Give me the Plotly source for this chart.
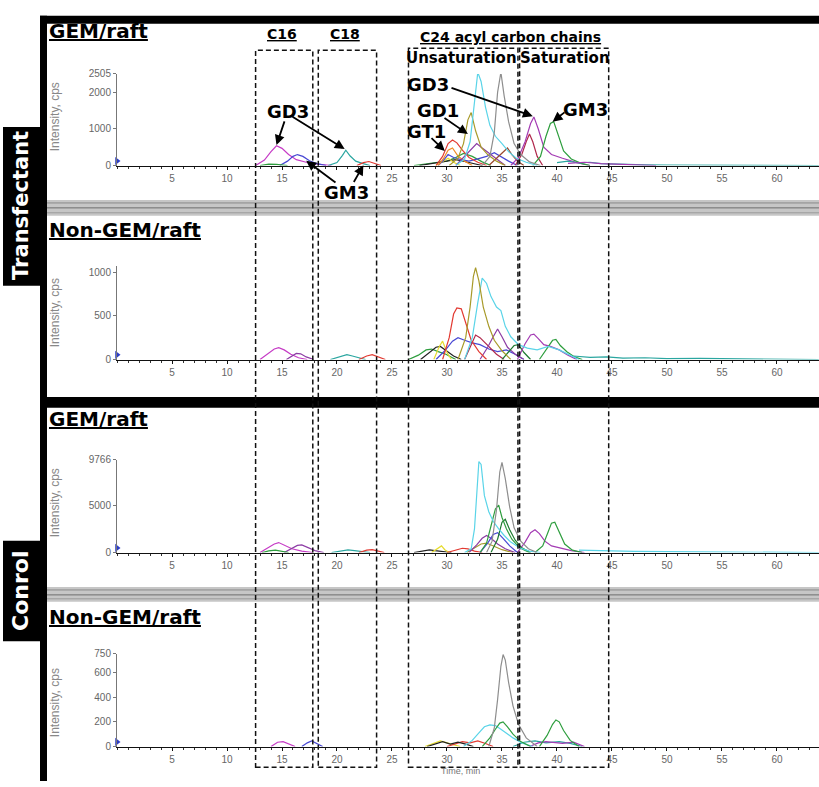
import plotly.graph_objects as go

W, H = 819, 787

# ---------------- data: retention time (min) / intensity (cps) ----------------
# Panel 1: Transfectant, GEM/raft
T1_MAGENTA = [12.6, 13.4, 14.0, 14.5, 15.0, 15.6, 16.3, 17.2, 18.2, 19.5]
I1_MAGENTA = [0, 150, 380, 540, 470, 300, 160, 90, 40, 0]
T1_BLUE16 = [14.8, 15.5, 16.0, 16.4, 16.9, 17.5, 18.2, 19.0]
I1_BLUE16 = [0, 120, 250, 300, 250, 130, 50, 0]
T1_TEAL = [19.2, 20.0, 20.5, 20.8, 21.2, 21.7, 22.3, 23.0]
I1_TEAL = [0, 80, 280, 420, 260, 120, 60, 0]
T1_RED23 = [21.8, 22.4, 22.9, 23.4, 24.0]
I1_RED23 = [0, 80, 110, 50, 0]
T1_GREEN14 = [13.0, 13.8, 14.5, 15.5]
I1_GREEN14 = [0, 40, 30, 0]
T1_CYAN = [30.8, 31.6, 32.1, 32.5, 32.8, 33.1, 33.5, 33.9, 34.4, 35.0, 35.6, 36.3, 37.2, 38.2]
I1_CYAN = [0, 180, 650, 1700, 2550, 2300, 1600, 1100, 800, 600, 380, 200, 90, 0]
T1_GRAY = [33.2, 33.9, 34.3, 34.6, 34.9, 35.2, 35.6, 36.1, 36.7, 37.5, 38.5]
I1_GRAY = [0, 250, 900, 2000, 2550, 1900, 1200, 600, 300, 100, 0]
T1_OLIVE = [30.2, 31.0, 31.5, 31.9, 32.2, 32.6, 33.1, 33.7, 34.5, 35.3]
I1_OLIVE = [0, 200, 600, 1250, 1450, 950, 500, 300, 120, 0]
T1_RED = [29.0, 29.6, 30.1, 30.5, 30.9, 31.4, 32.0, 32.8, 33.6]
I1_RED = [0, 250, 600, 700, 620, 420, 220, 90, 0]
T1_ORANGE = [29.2, 29.7, 30.1, 30.5, 31.0, 31.6, 32.3]
I1_ORANGE = [0, 200, 420, 480, 260, 120, 0]
T1_BLUE = [29.2, 29.7, 30.1, 30.6, 31.3, 32.0, 32.8, 33.6, 34.3, 34.9, 35.6, 36.4]
I1_BLUE = [0, 150, 300, 220, 160, 120, 180, 250, 350, 240, 120, 0]
T1_VIOLET = [30.8, 31.6, 32.2, 32.7, 33.2, 33.8, 34.5, 35.3]
I1_VIOLET = [0, 250, 450, 600, 480, 350, 180, 0]
T1_BROWN = [33.8, 34.5, 35.1, 35.5, 35.9, 36.4, 37.0]
I1_BROWN = [0, 200, 380, 480, 300, 120, 0]
T1_PURPLE = [35.8, 36.5, 37.1, 37.6, 37.9, 38.3, 38.8, 39.5, 40.5, 41.8, 43.0]
I1_PURPLE = [0, 220, 650, 1150, 1330, 1000, 500, 300, 200, 80, 0]
T1_MAROON = [36.2, 36.8, 37.2, 37.5, 37.8, 38.2, 38.7]
I1_MAROON = [0, 300, 650, 860, 650, 250, 0]
T1_GREEN = [37.8, 38.5, 39.0, 39.4, 39.7, 40.1, 40.6, 41.3, 42.2, 43.0]
I1_GREEN = [0, 250, 800, 1150, 1200, 850, 400, 180, 60, 0]
T1_GREEN2 = [27.0, 28.0, 29.0, 30.0, 30.8, 31.5, 32.3, 33.2, 34.0]
I1_GREEN2 = [0, 40, 70, 120, 220, 330, 250, 100, 0]
T1_YELLOW = [29.0, 29.6, 30.1, 30.6, 31.2]
I1_YELLOW = [0, 120, 200, 90, 0]
T1_BLACK = [27.5, 28.5, 29.3, 30.0, 30.8, 31.6, 32.4, 33.2]
I1_BLACK = [0, 50, 90, 130, 160, 110, 60, 0]
T1_TAIL = [40.0, 41.0, 42.0, 43.0, 44.0, 45.0, 46.5, 48.0, 50.0, 53.0, 57.0, 60.0, 63.8]
I1_TAIL = [80, 120, 70, 90, 50, 40, 30, 20, 15, 10, 8, 5, 0]
T1_TAIL2 = [41.0, 42.5, 44.0, 45.5, 47.0, 49.0]
I1_TAIL2 = [60, 90, 50, 40, 20, 0]

# Panel 2: Transfectant, Non-GEM/raft
T2_OLIVE = [31.0, 31.7, 32.1, 32.4, 32.6, 32.9, 33.3, 33.8, 34.3, 35.0, 35.8]
I2_OLIVE = [0, 250, 600, 950, 1050, 900, 600, 380, 220, 100, 0]
T2_CYAN = [31.6, 32.3, 32.8, 33.2, 33.6, 34.0, 34.5, 34.9, 35.3, 35.8, 36.5, 37.3, 38.2, 39.2, 40.2, 41.2, 42.0]
I2_CYAN = [0, 250, 650, 930, 870, 720, 600, 560, 380, 260, 170, 130, 110, 150, 110, 50, 0]
T2_RED = [29.6, 30.2, 30.6, 30.9, 31.3, 31.7, 32.2, 32.9, 33.6]
I2_RED = [0, 250, 520, 590, 580, 420, 220, 90, 0]
T2_VIOLET = [33.0, 33.7, 34.2, 34.6, 35.0, 35.5, 36.2, 37.0]
I2_VIOLET = [0, 140, 260, 350, 260, 140, 60, 0]
T2_BLUE = [29.0, 29.8, 30.5, 31.0, 31.6, 32.3, 33.0, 33.8, 34.6, 35.4, 36.2, 37.0]
I2_BLUE = [0, 100, 210, 250, 220, 190, 170, 120, 90, 110, 60, 0]
T2_MAROON = [31.6, 32.2, 32.6, 33.0, 33.4, 33.9, 34.5, 35.2]
I2_MAROON = [0, 180, 280, 250, 200, 140, 60, 0]
T2_PURPLE = [36.4, 37.1, 37.6, 37.9, 38.3, 38.8, 39.4, 40.2, 41.0, 41.8]
I2_PURPLE = [0, 180, 280, 290, 240, 170, 150, 110, 50, 0]
T2_GREEN = [38.4, 39.1, 39.6, 39.9, 40.3, 40.9, 41.6, 42.3]
I2_GREEN = [0, 120, 220, 230, 160, 90, 30, 0]
T2_GREEN2 = [26.5, 27.4, 28.1, 28.6, 29.2, 29.9, 30.8]
I2_GREEN2 = [0, 50, 110, 120, 90, 60, 0]
T2_BLACK = [27.6, 28.4, 29.0, 29.4, 29.9, 30.6, 31.3]
I2_BLACK = [0, 80, 140, 150, 100, 40, 0]
T2_YELLOW = [28.8, 29.3, 29.6, 30.0, 30.4]
I2_YELLOW = [0, 150, 210, 80, 0]
T2_DKGREEN = [35.0, 35.6, 36.1, 36.5, 37.0, 37.6]
I2_DKGREEN = [0, 90, 160, 170, 80, 0]
T2_MAGENTA = [13.0, 13.7, 14.3, 14.7, 15.2, 15.8, 16.5, 17.3]
I2_MAGENTA = [0, 60, 120, 135, 110, 60, 20, 0]
T2_BLUE16 = [15.4, 15.9, 16.3, 16.7, 17.2, 17.9]
I2_BLUE16 = [0, 40, 70, 65, 30, 0]
T2_TEAL = [19.4, 20.2, 20.9, 21.4, 22.0, 22.6]
I2_TEAL = [0, 30, 55, 40, 20, 0]
T2_RED23 = [22.0, 22.7, 23.2, 23.8, 24.4]
I2_RED23 = [0, 40, 55, 30, 0]
T2_TAIL = [41.5, 43.0, 44.5, 46.0, 48.0, 50.0, 53.0, 56.0, 59.0, 63.8]
I2_TAIL = [40, 25, 30, 15, 20, 10, 12, 8, 6, 0]

# Panel 3: Control, GEM/raft
T3_CYAN = [31.6, 32.2, 32.5, 32.7, 32.9, 33.1, 33.4, 33.8, 34.2, 34.7, 35.2, 35.8, 36.6, 37.5, 38.5]
I3_CYAN = [0, 400, 2500, 6500, 9600, 9300, 6000, 4300, 3300, 2500, 1800, 1100, 500, 150, 0]
T3_GRAY = [33.6, 34.1, 34.5, 34.8, 35.0, 35.3, 35.7, 36.1, 36.7, 37.4, 38.2]
I3_GRAY = [0, 1200, 4500, 8500, 9500, 7800, 4800, 2600, 1200, 400, 0]
T3_GREEN = [33.0, 33.6, 34.0, 34.4, 34.7, 35.0, 35.4, 35.9, 36.6, 37.5]
I3_GREEN = [0, 1000, 2800, 4600, 5000, 3700, 2500, 1400, 500, 0]
T3_DKGREEN = [34.0, 34.6, 35.0, 35.3, 35.7, 36.2, 36.8, 37.6]
I3_DKGREEN = [0, 1400, 3200, 3500, 2400, 1300, 500, 0]
T3_GREEN40 = [38.0, 38.7, 39.2, 39.5, 39.8, 40.2, 40.7, 41.4, 42.3]
I3_GREEN40 = [0, 700, 2200, 3100, 3200, 2200, 900, 250, 0]
T3_PURPLE = [36.4, 37.1, 37.6, 38.0, 38.4, 38.9, 39.5, 40.3, 41.3, 42.5]
I3_PURPLE = [0, 1100, 2100, 2400, 2000, 1200, 700, 450, 200, 0]
T3_VIOLET = [32.0, 32.7, 33.2, 33.6, 34.0, 34.6, 35.3, 36.2]
I3_VIOLET = [0, 800, 1500, 1800, 1500, 900, 400, 0]
T3_BLUE = [33.0, 33.7, 34.2, 34.6, 35.1, 35.7, 36.4]
I3_BLUE = [0, 1000, 1900, 2100, 1500, 700, 0]
T3_OLIVE = [31.8, 32.6, 33.1, 33.6, 34.2, 35.0, 36.0]
I3_OLIVE = [0, 500, 900, 1000, 700, 300, 0]
T3_RED = [30.0, 30.8, 31.4, 31.9, 32.5, 33.2]
I3_RED = [0, 250, 450, 380, 150, 0]
T3_YELLOW = [28.6, 29.1, 29.5, 29.8, 30.2]
I3_YELLOW = [0, 350, 700, 300, 0]
T3_BLACK = [27.0, 27.8, 28.4, 28.9, 29.6, 30.4]
I3_BLACK = [0, 150, 280, 200, 80, 0]
T3_MAGENTA = [13.0, 13.7, 14.3, 14.7, 15.2, 15.9, 16.8, 17.8]
I3_MAGENTA = [0, 500, 900, 1050, 800, 400, 150, 0]
T3_BLUE16 = [15.2, 15.9, 16.4, 16.8, 17.3, 18.0, 18.8]
I3_BLUE16 = [0, 400, 750, 800, 550, 200, 0]
T3_GREEN14 = [13.2, 13.8, 14.4, 15.0, 15.6]
I3_GREEN14 = [0, 180, 260, 150, 0]
T3_TEAL = [19.5, 20.3, 21.0, 21.6, 22.3, 23.0]
I3_TEAL = [0, 150, 280, 200, 80, 0]
T3_RED23 = [22.0, 22.7, 23.2, 23.7, 24.3]
I3_RED23 = [0, 250, 300, 150, 0]
T3_TAIL = [42.0, 43.5, 45.0, 47.0, 50.0, 53.0, 56.0, 58.0, 59.0, 61.0, 63.8]
I3_TAIL = [250, 200, 150, 120, 90, 70, 60, 100, 50, 40, 0]

# Panel 4: Control, Non-GEM/raft
T4_GRAY = [33.8, 34.3, 34.6, 34.9, 35.1, 35.3, 35.6, 36.0, 36.5, 37.2, 38.2]
I4_GRAY = [0, 150, 380, 650, 745, 700, 520, 330, 180, 70, 0]
T4_CYAN = [31.5, 32.3, 32.9, 33.4, 33.9, 34.4, 34.9, 35.4, 36.0, 36.8, 37.8]
I4_CYAN = [0, 50, 110, 160, 175, 170, 140, 110, 70, 30, 0]
T4_GREEN = [33.2, 33.9, 34.4, 34.8, 35.1, 35.5, 36.0, 36.7, 37.6]
I4_GREEN = [0, 70, 140, 190, 200, 160, 100, 40, 0]
T4_GREEN40 = [38.4, 39.1, 39.6, 39.9, 40.2, 40.6, 41.2, 42.0]
I4_GREEN40 = [0, 90, 180, 215, 200, 130, 50, 0]
T4_YELLOW = [28.0, 28.8, 29.4, 30.0, 30.6, 31.2]
I4_YELLOW = [0, 25, 45, 30, 15, 0]
T4_MAGENTA = [14.0, 14.6, 15.1, 15.6, 16.2]
I4_MAGENTA = [0, 35, 40, 20, 0]
T4_BLUE = [16.8, 17.3, 17.7, 18.2, 18.7]
I4_BLUE = [0, 30, 45, 20, 0]
T4_RED = [30.0, 30.8, 31.4, 32.1, 32.8, 33.5, 34.2]
I4_RED = [0, 25, 40, 30, 45, 25, 0]
T4_BLACK = [28.2, 29.0, 29.6, 30.3, 31.0, 31.7, 32.4]
I4_BLACK = [0, 25, 40, 20, 35, 20, 0]
T4_TEAL = [36.0, 37.0, 38.0, 39.0, 40.2, 41.2, 42.3]
I4_TEAL = [0, 35, 45, 30, 40, 25, 0]
T4_PURPLE = [37.5, 38.3, 39.0, 40.5, 41.5, 42.5]
I4_PURPLE = [0, 30, 40, 25, 35, 0]

# axis ticks
X_TICKS = [5, 10, 15, 20, 25, 30, 35, 40, 45, 50, 55, 60]
X_TICK_TEXT = ['5', '10', '15', '20', '25', '30', '35', '40', '45', '50', '55', '60']
X_TICK_TEXT_P1 = ['5', '10', '15', '', '25', '30', '35', '40', '45', '50', '55', '60']  # "20" hidden under GM3
Y_TICKS = [[0, 1000, 2000, 2505], [0, 500, 1000], [0, 5000, 9766], [0, 200, 400, 600, 750]]
Y_MAX = [2505, 1070, 9766, 750]
X_MAX = 63.82

# chain-length regions (min)
REGION_C16 = [12.6, 17.8]
REGION_C18 = [18.3, 23.6]
REGION_UNSAT = [26.5, 36.45]
REGION_SAT = [36.6, 44.7]

COLORS = {
    'magenta': '#c63cc6', 'blue': '#4848d4', 'teal': '#2aa6a0', 'red': '#e23a32',
    'green': '#2e9e3e', 'olive': '#a89a2a', 'cyan': '#5ad4e8', 'gray': '#8e8e8e',
    'maroon': '#b0284c', 'orange': '#f08c28', 'black': '#222222', 'yellow': '#e6dc30',
    'violet': '#8c3ca4', 'purple': '#a43cb4', 'dkgreen': '#1e7a30', 'brown': '#9a4a30',
}

SERIES = [
    (1, 'magenta', T1_MAGENTA, I1_MAGENTA), (1, 'blue', T1_BLUE16, I1_BLUE16),
    (1, 'teal', T1_TEAL, I1_TEAL), (1, 'red', T1_RED23, I1_RED23), (1, 'green', T1_GREEN14, I1_GREEN14),
    (1, 'green', T1_GREEN2, I1_GREEN2), (1, 'black', T1_BLACK, I1_BLACK), (1, 'yellow', T1_YELLOW, I1_YELLOW),
    (1, 'blue', T1_BLUE, I1_BLUE), (1, 'orange', T1_ORANGE, I1_ORANGE), (1, 'red', T1_RED, I1_RED),
    (1, 'violet', T1_VIOLET, I1_VIOLET), (1, 'brown', T1_BROWN, I1_BROWN), (1, 'olive', T1_OLIVE, I1_OLIVE),
    (1, 'maroon', T1_MAROON, I1_MAROON), (1, 'purple', T1_PURPLE, I1_PURPLE), (1, 'green', T1_GREEN, I1_GREEN),
    (1, 'teal', T1_TAIL, I1_TAIL), (1, 'purple', T1_TAIL2, I1_TAIL2),
    (1, 'cyan', T1_CYAN, I1_CYAN), (1, 'gray', T1_GRAY, I1_GRAY),
    (2, 'magenta', T2_MAGENTA, I2_MAGENTA), (2, 'violet', T2_BLUE16, I2_BLUE16), (2, 'teal', T2_TEAL, I2_TEAL),
    (2, 'red', T2_RED23, I2_RED23), (2, 'green', T2_GREEN2, I2_GREEN2), (2, 'black', T2_BLACK, I2_BLACK),
    (2, 'yellow', T2_YELLOW, I2_YELLOW), (2, 'blue', T2_BLUE, I2_BLUE), (2, 'maroon', T2_MAROON, I2_MAROON),
    (2, 'violet', T2_VIOLET, I2_VIOLET), (2, 'dkgreen', T2_DKGREEN, I2_DKGREEN), (2, 'purple', T2_PURPLE, I2_PURPLE),
    (2, 'green', T2_GREEN, I2_GREEN), (2, 'red', T2_RED, I2_RED), (2, 'teal', T2_TAIL, I2_TAIL),
    (2, 'cyan', T2_CYAN, I2_CYAN), (2, 'olive', T2_OLIVE, I2_OLIVE),
    (3, 'magenta', T3_MAGENTA, I3_MAGENTA), (3, 'violet', T3_BLUE16, I3_BLUE16), (3, 'green', T3_GREEN14, I3_GREEN14),
    (3, 'teal', T3_TEAL, I3_TEAL), (3, 'red', T3_RED23, I3_RED23), (3, 'black', T3_BLACK, I3_BLACK),
    (3, 'yellow', T3_YELLOW, I3_YELLOW), (3, 'red', T3_RED, I3_RED), (3, 'olive', T3_OLIVE, I3_OLIVE),
    (3, 'violet', T3_VIOLET, I3_VIOLET), (3, 'blue', T3_BLUE, I3_BLUE), (3, 'purple', T3_PURPLE, I3_PURPLE),
    (3, 'green', T3_GREEN40, I3_GREEN40), (3, 'cyan', T3_TAIL, I3_TAIL), (3, 'dkgreen', T3_DKGREEN, I3_DKGREEN),
    (3, 'green', T3_GREEN, I3_GREEN), (3, 'cyan', T3_CYAN, I3_CYAN), (3, 'gray', T3_GRAY, I3_GRAY),
    (4, 'magenta', T4_MAGENTA, I4_MAGENTA), (4, 'blue', T4_BLUE, I4_BLUE), (4, 'yellow', T4_YELLOW, I4_YELLOW),
    (4, 'red', T4_RED, I4_RED), (4, 'black', T4_BLACK, I4_BLACK), (4, 'teal', T4_TEAL, I4_TEAL),
    (4, 'purple', T4_PURPLE, I4_PURPLE), (4, 'cyan', T4_CYAN, I4_CYAN), (4, 'green', T4_GREEN, I4_GREEN),
    (4, 'green', T4_GREEN40, I4_GREEN40), (4, 'gray', T4_GRAY, I4_GRAY),
]

# ---------------- layout geometry (pixels) ----------------
X0_PX = 117
PANEL_PX = [(162, 69), (359, 264), (555, 461), (752, 658)]  # (axis bottom, axis top)
TITLE_Y = [25, 227, 419, 620]
TITLE_TXT = ['GEM/raft', 'Non-GEM/raft', 'GEM/raft', 'Non-GEM/raft']
YTITLE_Y = [113, 312, 505, 708]


def px(x):
    return x / W


def py(y):
    return 1 - y / H


def ax_name(p, kind):
    return kind if p == 1 else f'{kind}{p}'


fig = go.Figure()

for p, c, t, i in SERIES:
    fig.add_trace(go.Scatter(
        x=t, y=i, mode='lines', line=dict(color=COLORS[c], width=1.2),
        xaxis=ax_name(p, 'x'), yaxis=ax_name(p, 'y'), showlegend=False, hoverinfo='skip'))

# blue start marker at the origin of every panel
for p in range(1, 5):
    fig.add_trace(go.Scatter(
        x=[0.0], y=[Y_MAX[p - 1] * 0.05], mode='markers', cliponaxis=False,
        marker=dict(symbol='triangle-right', size=7, color='#2a3cc8'),
        xaxis=ax_name(p, 'x'), yaxis=ax_name(p, 'y'), showlegend=False, hoverinfo='skip'))

layout = dict(
    width=W, height=H, margin=dict(l=0, r=0, t=0, b=0),
    paper_bgcolor='white', plot_bgcolor='rgba(0,0,0,0)',
    font=dict(family='Liberation Sans, Arial, sans-serif'),
    showlegend=False, hovermode=False,
)

for p in range(1, 5):
    bot, top = PANEL_PX[p - 1]
    xa = 'xaxis' if p == 1 else f'xaxis{p}'
    ya = 'yaxis' if p == 1 else f'yaxis{p}'
    layout[xa] = dict(
        domain=[px(X0_PX), 1], range=[0, X_MAX], anchor=ax_name(p, 'y'),
        showline=True, linecolor='#111', linewidth=1.6, ticks='outside', ticklen=3,
        tickcolor='#111', tickwidth=1, tickvals=X_TICKS,
        ticktext=X_TICK_TEXT_P1 if p == 1 else X_TICK_TEXT,
        tickfont=dict(size=10, color='#666'), showgrid=False, zeroline=False,
        minor=dict(dtick=1, tick0=0, ticks='outside', ticklen=2, tickcolor='#333'),
        fixedrange=True,
    )
    layout[ya] = dict(
        domain=[py(bot), py(top)], range=[0, Y_MAX[p - 1]], anchor=ax_name(p, 'x'),
        showline=True, linecolor='#777', linewidth=1, ticks='outside', ticklen=3,
        tickcolor='#777', tickvals=Y_TICKS[p - 1], ticktext=[str(v) for v in Y_TICKS[p - 1]],
        tickfont=dict(size=10, color='#666'), showgrid=False, zeroline=False, fixedrange=True,
    )

shapes = []
# black frame
shapes.append(dict(type='rect', xref='paper', yref='paper', x0=px(40), x1=px(819), y0=py(18), y1=py(10),
                   fillcolor='black', line=dict(width=0), layer='below'))
shapes.append(dict(type='rect', xref='paper', yref='paper', x0=px(40), x1=px(47), y0=py(787), y1=py(10),
                   fillcolor='black', line=dict(width=0), layer='below'))
shapes.append(dict(type='rect', xref='paper', yref='paper', x0=px(40), x1=px(819), y0=py(408), y1=py(397),
                   fillcolor='black', line=dict(width=0), layer='below'))
# gray separator bands
for g0, g1 in [(197, 213), (590, 605)]:
    shapes.append(dict(type='rect', xref='paper', yref='paper', x0=px(47), x1=px(819), y0=py(g1), y1=py(g0),
                       fillcolor='#c6c6c6', line=dict(width=0), layer='below'))
    for ly, lc in [(g0 + 3, '#8a8a8a'), (g0 + 8, '#6e6e6e'), (g1 - 3, '#9a9a9a')]:
        shapes.append(dict(type='line', xref='paper', yref='paper', x0=px(47), x1=px(819), y0=py(ly), y1=py(ly),
                           line=dict(color=lc, width=1), layer='below'))
# side label boxes
shapes.append(dict(type='rect', xref='paper', yref='paper', x0=px(3), x1=px(40), y0=py(284), y1=py(123),
                   fillcolor='black', line=dict(width=0), layer='below'))
shapes.append(dict(type='rect', xref='paper', yref='paper', x0=px(3), x1=px(40), y0=py(645), y1=py(543),
                   fillcolor='black', line=dict(width=0), layer='below'))
# dashed region boxes
dash = dict(color='#111', width=1.5, dash='5px,3px')
for (r0, r1), top in [(REGION_C16, 45), (REGION_C18, 45), (REGION_UNSAT, 43), (REGION_SAT, 43)]:
    shapes.append(dict(type='rect', xref='x', yref='paper', x0=r0, x1=r1, y0=py(773), y1=py(top),
                       line=dash, fillcolor='rgba(0,0,0,0)', layer='above'))
layout['shapes'] = shapes

ann = []


def txt(x, y, s, size, color='black', bold=True, angle=0, family='DejaVu Sans, sans-serif', xanchor='center'):
    ann.append(dict(xref='paper', yref='paper', x=px(x), y=py(y), text=(f'<b>{s}</b>' if bold else s),
                    showarrow=False, font=dict(size=size, color=color, family=family),
                    textangle=angle, xanchor=xanchor, yanchor='middle'))


for ty, tt in zip(TITLE_Y, TITLE_TXT):
    txt(47, ty, f'<u>{tt}</u>', 20, xanchor='left')
for yy in YTITLE_Y:
    txt(55, yy, 'Intensity, cps', 12, color='#888', bold=False, angle=-90, family='Liberation Sans, Arial')
txt(21, 203, 'Transfectant', 21, color='white', angle=-90)
txt(21, 594, 'Conrol', 22, color='white', angle=-90)
txt(282, 28, '<u>C16</u>', 14)
txt(345, 28, '<u>C18</u>', 14)
txt(510, 31, '<u>C24 acyl carbon chains</u>', 14)
txt(461, 53, 'Unsaturation', 15)
txt(565, 53, 'Saturation', 15)
txt(288, 107, 'GD3', 18)
txt(346, 189, 'GM3', 18)
txt(428, 80, 'GD3', 18)
txt(438, 106, 'GD1', 18)
txt(426, 127, 'GT1', 18)
txt(585, 105, 'GM3', 18)
txt(460, 777, 'Time, min', 9, color='#777', bold=False, family='Liberation Sans, Arial')

# arrows: head at a peak (data coords of panel 1), tail at a label (pixels)
ARROWS = [
    ((14.5, 560), (285, 116)), ((20.7, 450), (291, 112)),
    ((17.2, 130), (337, 180)), ((22.4, 10), (353, 180)),
    ((32.7, 2540), (450, 78)), ((37.8, 1350), (450, 83)),
    ((31.9, 860), (443, 113)), ((29.8, 400), (430, 133)),
    ((34.8, 2540), (566, 99)), ((39.6, 1200), (566, 107)),
]
bot1, top1 = PANEL_PX[0]
for (ht, hv), (tx, ty) in ARROWS:
    hx = X0_PX + ht / X_MAX * (W - X0_PX)
    hy = bot1 - hv / Y_MAX[0] * (bot1 - top1)
    ann.append(dict(xref='x', yref='y', x=ht, y=hv, ax=tx - hx, ay=ty - hy, axref='pixel', ayref='pixel',
                    text='', showarrow=True, arrowhead=2, arrowsize=1.1, arrowwidth=1.8,
                    arrowcolor='black', standoff=0))
layout['annotations'] = ann

fig.update_layout(**layout)
fig.write_html('out.html', config={'displayModeBar': False, 'staticPlot': True},
               post_script="document.body.style.margin='0';document.body.style.overflow='hidden';")
